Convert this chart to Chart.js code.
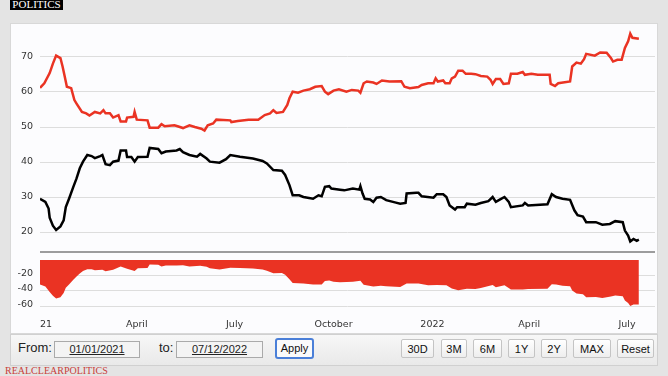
<!DOCTYPE html>
<html>
<head>
<meta charset="utf-8">
<script src="https://cdn.jsdelivr.net/npm/chart.js@4/dist/chart.umd.min.js"></script>
<style>
  html, body { margin: 0; padding: 0; }
  body { width: 668px; height: 376px; background: #e4e4e4; position: relative; overflow: hidden; font-family: "Liberation Sans", Arial, sans-serif; }
  #logo { position: absolute; left: 10px; top: -3px; height: 13px; width: 53px; background: #000; color: #fff; font: 11px "Liberation Serif", serif; line-height: 15px; text-align: center; }
  #panel { position: absolute; left: 10px; top: 23px; width: 648px; height: 311px; background: #fcfcfe; border: 1px solid #d8d8d8; box-sizing: border-box; }
  #upper { position: absolute; left: 10px; top: 22px; }
  #lower { position: absolute; left: 10px; top: 257px; }
  #bar { position: absolute; left: 10px; top: 334px; width: 648px; height: 32px; background: linear-gradient(#f7f7f7, #e9e9e9); border: 1px solid #d0d0d0; box-sizing: border-box; }
  .lbl { position: absolute; top: 340px; font-size: 13px; color: #222; }
  .box { position: absolute; top: 341px; height: 15px; border: 1px solid #aaa; background: #f4f4f4; font-size: 11px; color: #222; text-align: center; line-height: 15px; text-decoration: underline; }
  .btn { position: absolute; top: 339px; height: 19px; border: 1px solid #c4c4c4; border-radius: 2px; background: linear-gradient(#ffffff, #eeeeee); font-size: 11px; color: #111; text-align: center; line-height: 19px; box-sizing: border-box; }
  #apply { border: 2px solid #4a7fd8; border-radius: 3px; background: #fafafa; top: 338px; height: 21px; line-height: 17px; }
  #rcp { position: absolute; left: 5px; top: 365px; font: 10px "Liberation Serif", serif; color: #c8403a; }
</style>
</head>
<body>
<div id="logo">POLITICS</div>
<div id="panel"></div>
<canvas id="upper" width="645" height="231"></canvas>
<canvas id="lower" width="645" height="75"></canvas>
<div id="bar"></div>
<div class="lbl" style="left:18px">From:</div>
<div class="box" style="left:54px;width:84px">01/01/2021</div>
<div class="lbl" style="left:159px">to:</div>
<div class="box" style="left:176px;width:85px">07/12/2022</div>
<div class="btn" id="apply" style="left:275px;width:39px">Apply</div>
<div class="btn" style="left:401px;width:33px">30D</div>
<div class="btn" style="left:441px;width:26px">3M</div>
<div class="btn" style="left:473px;width:29px">6M</div>
<div class="btn" style="left:508px;width:27px">1Y</div>
<div class="btn" style="left:541px;width:26px">2Y</div>
<div class="btn" style="left:573px;width:38px">MAX</div>
<div class="btn" style="left:617px;width:37px">Reset</div>
<div id="rcp">REALCLEARPOLITICS</div>

<script>
// days counted from 01/01/2021
const wrongDays = [0, 4, 9, 12, 15, 19, 21, 23, 25, 29, 32, 34, 39, 43, 46, 51, 56, 59, 61, 65, 68, 73, 75, 80, 81, 87, 88, 90,
  100, 102, 110, 113, 116, 125, 128, 133, 139, 144, 150, 153, 156, 161, 164, 177, 178, 184, 194, 203, 209, 214, 217, 220, 226,
  230, 232, 235, 240, 245, 251, 256, 262, 265, 268, 273, 278, 285, 290, 296, 298, 301, 304, 310, 313, 318, 325, 336, 339, 344,
  352, 355, 361, 366, 368, 370, 375, 377, 381, 383, 386, 389, 393, 396, 401, 405, 410, 416, 419, 421, 424, 428, 431, 436, 438,
  444, 449, 451, 457, 463, 474, 475, 479, 482, 493, 495, 499, 503, 506, 508, 516, 521, 527, 531, 533, 537, 541, 544, 547, 549,
  551, 557];
const wrongVals = [61.2, 62.5, 65.4, 68.1, 70.4, 69.7, 67.3, 64.4, 61.5, 61.1, 57.7, 56.7, 54.3, 53.9, 53.3, 54.3, 53.9, 54.8,
  53.9, 53.9, 52.7, 53.4, 51.6, 51.6, 52.7, 52.9, 54.3, 52.1, 51.9, 49.8, 49.8, 50.8, 50.2, 50.5, 50.2, 49.7, 50.5, 50.0, 49.5,
  49.0, 50.5, 51.0, 52.1, 51.9, 51.4, 51.7, 52.1, 52.1, 53.4, 53.9, 54.8, 54.0, 54.3, 56.3, 58.2, 60.1, 59.8, 60.4, 60.8, 61.5,
  61.7, 60.1, 59.4, 60.4, 60.8, 60.1, 60.6, 60.4, 59.8, 62.5, 63.0, 62.7, 62.3, 63.3, 63.0, 63.1, 61.5, 61.1, 61.4, 62.0, 62.5,
  62.5, 63.9, 63.0, 63.3, 62.5, 62.5, 63.9, 64.4, 66.1, 66.1, 65.2, 65.2, 65.1, 64.6, 64.4, 63.5, 62.3, 63.7, 63.7, 62.3, 62.5,
  65.2, 65.2, 65.7, 64.9, 65.2, 64.9, 64.9, 62.3, 61.7, 62.5, 63.0, 67.3, 68.4, 68.1, 69.4, 70.9, 70.4, 71.3, 71.2, 69.7, 68.7,
  69.2, 69.2, 72.6, 74.5, 76.7, 75.5, 75.2];

const rightDays = [0, 5, 8, 9, 12, 15, 19, 22, 24, 27, 31, 34, 37, 40, 44, 48, 51, 56, 58, 61, 65, 68, 73, 75, 80, 81, 85, 88,
  91, 100, 102, 110, 113, 117, 127, 130, 133, 139, 146, 149, 155, 158, 167, 173, 177, 186, 198, 207, 211, 217, 225, 228, 232,
  235, 241, 245, 254, 259, 262, 265, 269, 271, 279, 283, 291, 297, 298, 300, 302, 307, 310, 313, 317, 322, 331, 335, 340, 341,
  350, 352, 355, 366, 369, 375, 378, 381, 386, 388, 395, 397, 405, 410, 417, 421, 424, 428, 432, 436, 438, 449, 451, 454, 472,
  476, 480, 486, 493, 497, 500, 505, 508, 517, 523, 530, 535, 542, 544, 547, 549, 552, 555, 557];
const rightVals = [29.5, 28.6, 26.7, 24.1, 21.8, 20.6, 21.6, 23.3, 27.1, 29.5, 32.9, 35.3, 38.2, 40.1, 42.0, 41.7, 41.1, 41.7,
  42.0, 39.4, 39.1, 40.1, 40.4, 43.3, 43.3, 41.4, 41.4, 40.1, 41.4, 41.5, 44.0, 43.7, 42.5, 43.0, 43.3, 43.7, 42.8, 42.0, 41.5,
  42.3, 41.0, 40.1, 39.8, 40.8, 42.0, 41.5, 41.0, 40.3, 39.6, 37.7, 37.5, 36.3, 33.4, 30.5, 30.5, 30.0, 29.5, 30.5, 30.2, 32.9,
  33.1, 32.4, 32.1, 31.9, 32.4, 32.1, 33.1, 31.0, 29.5, 29.3, 28.6, 29.8, 30.0, 29.1, 28.4, 28.1, 28.3, 31.0, 31.2, 31.2, 30.2,
  29.8, 30.8, 30.8, 30.0, 27.6, 26.4, 27.1, 27.1, 28.1, 27.8, 28.3, 28.8, 30.0, 28.6, 29.3, 30.0, 28.6, 27.1, 27.6, 28.3, 27.6,
  27.9, 30.8, 30.0, 29.5, 29.2, 26.2, 24.8, 24.4, 22.8, 22.8, 22.1, 22.3, 23.1, 22.8, 20.4, 19.0, 17.3, 18.0, 17.5, 17.8];

const spreadDays = [0, 5, 9, 12, 15, 19, 22, 24, 27, 31, 34, 37, 40, 44, 48, 51, 58, 61, 68, 75, 81, 88, 91, 100, 102, 110, 113,
  117, 127, 133, 139, 149, 155, 158, 167, 177, 186, 198, 207, 211, 217, 225, 228, 232, 235, 245, 254, 262, 265, 269, 273, 279,
  291, 298, 301, 310, 317, 322, 335, 341, 352, 361, 369, 378, 383, 389, 397, 405, 410, 421, 424, 432, 438, 449, 454, 472, 476,
  480, 486, 493, 495, 499, 505, 508, 517, 523, 531, 535, 542, 544, 547, 549, 552, 557];
const spreadVals = [-31.7, -34.2, -41.3, -46.3, -49.8, -48.1, -42.7, -35.9, -31.8, -25.6, -21.4, -17.3, -14.1, -11.8, -12.0,
  -13.2, -12.5, -14.5, -12.6, -8.3, -11.3, -14.2, -10.7, -10.4, -5.8, -6.1, -8.3, -7.2, -7.1, -6.9, -8.5, -7.3, -8.6, -10.5,
  -12.2, -9.9, -10.3, -11.1, -12.3, -13.9, -17.1, -16.8, -18.9, -24.8, -29.6, -30.4, -31.7, -31.5, -27.2, -26.5, -28.1, -28.7,
  -28.2, -26.7, -32.0, -34.1, -33.3, -33.9, -35.0, -30.3, -30.2, -32.5, -32.4, -32.5, -36.9, -39.0, -37.1, -37.3, -36.3, -32.3,
  -35.1, -32.5, -38.1, -38.1, -37.4, -37.0, -31.2, -31.8, -33.2, -33.8, -39.3, -43.4, -44.2, -48.1, -47.7, -49.2, -47.1, -45.9,
  -46.8, -52.2, -55.5, -59.4, -57.5, -57.4];

const tickDays = [0, 90, 181, 273, 365, 455, 546];
const tickLabels = ['21', 'April', 'July', 'October', '2022', 'April', 'July'];
const upperTicks = [20, 30, 40, 50, 60, 70];
const lowerTicks = [-20, -40, -60];

const RED = '#ea3323';
const axisFont = { family: 'DejaVu Sans', size: 9.5 };
const xMax = 572;

function pts(xs, ys) {
  return xs.map((x, i) => ({ x: x, y: ys[i] }));
}

const separator = {
  id: 'separator',
  afterDraw(chart) {
    const { ctx, chartArea } = chart;
    ctx.save();
    ctx.strokeStyle = '#7d7d7d';
    ctx.lineWidth = 1.5;
    ctx.beginPath();
    ctx.moveTo(chartArea.left, chartArea.bottom - 1);
    ctx.lineTo(chartArea.right, chartArea.bottom - 1);
    ctx.stroke();
    ctx.restore();
  }
};

function yAxis(min, max, ticks, offset) {
  return {
    min: min,
    max: max,
    afterBuildTicks: s => { s.ticks = ticks.map(v => ({ value: v })); },
    afterFit: s => { s.width = 30; s.paddingTop = 0; s.paddingBottom = 0; },
    grid: { color: '#dddddd', drawTicks: false },
    border: { display: false },
    ticks: { color: '#333', font: axisFont, padding: 7, labelOffset: offset }
  };
}

new Chart(document.getElementById('upper'), {
  type: 'line',
  data: {
    datasets: [
      { label: 'Wrong Track', data: pts(wrongDays, wrongVals), borderColor: RED, borderWidth: 2.5, pointRadius: 0, tension: 0 },
      { label: 'Right Direction', data: pts(rightDays, rightVals), borderColor: '#000', borderWidth: 2.5, pointRadius: 0, tension: 0 }
    ]
  },
  options: {
    responsive: false,
    animation: false,
    layout: { padding: 0 },
    plugins: { legend: { display: false }, tooltip: { enabled: false } },
    scales: {
      x: { type: 'linear', min: 0, max: xMax, display: false },
      y: yAxis(14, 80, upperTicks, 0)
    }
  },
  plugins: [separator]
});

new Chart(document.getElementById('lower'), {
  type: 'line',
  data: {
    datasets: [
      { label: 'Spread', data: pts(spreadDays, spreadVals), borderWidth: 0, borderColor: RED, backgroundColor: RED, fill: 'origin', pointRadius: 0, tension: 0 }
    ]
  },
  options: {
    responsive: false,
    animation: false,
    layout: { padding: { top: 3 } },
    plugins: { legend: { display: false }, tooltip: { enabled: false } },
    scales: {
      x: {
        type: 'linear', min: 0, max: xMax,
        afterBuildTicks: s => { s.ticks = tickDays.map(v => ({ value: v })); },
        afterFit: s => { s.height = 24; s.paddingLeft = 0; s.paddingRight = 0; },
        grid: { display: false },
        border: { display: false },
        ticks: {
          color: '#333', font: axisFont, padding: 3, autoSkip: false, maxRotation: 0,
          callback: v => {
            const i = tickDays.indexOf(v);
            if (i < 0) return '';
            return i === 0 ? '\u2007\u2007' + tickLabels[i] : tickLabels[i];
          }
        }
      },
      y: yAxis(-62, 0, lowerTicks, -2)
    }
  }
});
</script>
</body>
</html>
